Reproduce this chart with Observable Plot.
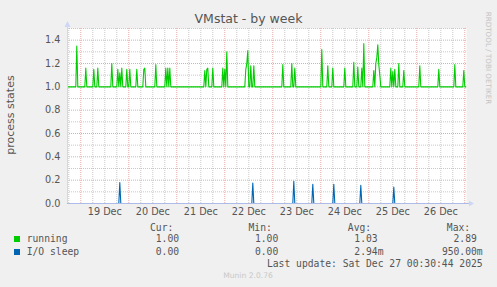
<!DOCTYPE html>
<html>
<head>
<meta charset="utf-8">
<script src="https://cdn.jsdelivr.net/npm/d3@7"></script>
<script src="https://cdn.jsdelivr.net/npm/@observablehq/plot@0.6"></script>
<style>
  html, body { margin: 0; padding: 0; background: #f0f0f0; }
  #wrap { position: relative; width: 497px; height: 287px; overflow: hidden; background: #f0f0f0; }
  #wrap > svg { position: absolute; left: 0; top: 0; }
  .t { position: absolute; white-space: pre; color: #555; line-height: 12px; height: 12px; }
  .mono { font-family: "DejaVu Sans Mono", monospace; font-size: 9.7px; }
  .sans { font-family: "DejaVu Sans", sans-serif; }
</style>
</head>
<body>
<div id="wrap"></div>
<script>
// ---------------- data ----------------
const sampleStart = "2025-12-18T17:30:00Z";
const sampleEnd   = "2025-12-27T00:30:00Z";
const stepMinutes = 30;

const runningBase = 1.0;
const runningTimes = [
  "2025-12-18T22:00","2025-12-19T02:30","2025-12-19T06:30","2025-12-19T08:30",
  "2025-12-19T15:30","2025-12-19T18:30","2025-12-19T19:30","2025-12-19T20:30",
  "2025-12-19T23:00","2025-12-20T00:30","2025-12-20T04:00","2025-12-20T07:30",
  "2025-12-20T08:00","2025-12-20T13:30","2025-12-20T18:30","2025-12-20T19:30",
  "2025-12-20T20:30","2025-12-21T14:00","2025-12-21T15:00","2025-12-21T15:30",
  "2025-12-21T18:00","2025-12-21T23:00","2025-12-22T00:00","2025-12-22T01:00",
  "2025-12-22T10:30","2025-12-22T11:00","2025-12-22T11:30","2025-12-22T13:00",
  "2025-12-22T14:30","2025-12-23T05:00","2025-12-23T09:30","2025-12-23T11:00",
  "2025-12-24T00:30","2025-12-24T03:30","2025-12-24T06:00","2025-12-24T12:00",
  "2025-12-24T16:30","2025-12-24T18:30","2025-12-24T20:30","2025-12-24T21:30",
  "2025-12-25T02:30","2025-12-25T03:30","2025-12-25T04:00","2025-12-25T04:30",
  "2025-12-25T05:00","2025-12-25T05:30","2025-12-25T11:00","2025-12-25T12:00",
  "2025-12-25T13:00","2025-12-25T15:00","2025-12-25T17:30","2025-12-26T01:30",
  "2025-12-26T11:00","2025-12-26T19:00","2025-12-26T23:30"
];
const runningValues = [
  1.35,1.16,1.15,1.16,
  1.20,1.15,1.12,1.16,
  1.15,1.15,1.15,1.15,
  1.16,1.19,1.16,1.16,
  1.16,1.14,1.15,1.16,
  1.16,1.16,1.15,1.30,
  1.15,1.20,1.31,1.18,
  1.18,1.19,1.20,1.16,
  1.32,1.18,1.16,1.16,
  1.21,1.17,1.16,1.37,
  1.14,1.20,1.25,1.36,
  1.19,1.10,1.16,1.13,
  1.15,1.20,1.14,1.18,
  1.15,1.19,1.14
];

const ioBase = 0.0;
const ioTimes = [
  "2025-12-19T19:30","2025-12-22T14:00","2025-12-23T10:30","2025-12-23T20:00",
  "2025-12-24T06:30","2025-12-24T20:00","2025-12-25T12:30"
];
const ioValues = [0.18,0.175,0.19,0.165,0.165,0.155,0.14];

const dayTicks = ["2025-12-19T12:00Z","2025-12-20T12:00Z","2025-12-21T12:00Z","2025-12-22T12:00Z",
                  "2025-12-23T12:00Z","2025-12-24T12:00Z","2025-12-25T12:00Z","2025-12-26T12:00Z"];
const yTicks = [0, 0.2, 0.4, 0.6, 0.8, 1.0, 1.2, 1.4];

const legendNames  = ["running", "I/O sleep"];
const legendColors = ["#00cc00", "#0066b3"];
const legendCur = ["1.00 ", "0.00 "];
const legendMin = ["1.00 ", "0.00 "];
const legendAvg = ["1.03 ", "2.94m"];
const legendMax = ["2.89 ", "950.00m"];
const titleText = "VMstat - by week";
const yLabel = "process states";
const lastUpdate = "Last update: Sat Dec 27 00:30:44 2025";
const watermark = "Munin 2.0.76";
const sideText = "RRDTOOL / TOBI OETIKER";

// ---------------- build series ----------------
function series(times, values, base) {
  const m = new Map(times.map((t, i) => [new Date(t + ":00Z").getTime(), values[i]]));
  const out = [];
  const t0 = new Date(sampleStart).getTime(), t1 = new Date(sampleEnd).getTime();
  for (let t = t0; t <= t1; t += stepMinutes * 60000) {
    out.push({t: new Date(t), v: m.has(t) ? m.get(t) : base});
  }
  return out;
}
const runningSeries = series(runningTimes, runningValues, runningBase);
const ioSeries = series(ioTimes, ioValues, ioBase);

const xStart = new Date("2025-12-18T17:21:00Z");
const xEnd   = new Date("2025-12-27T00:51:00Z");

const majorX = d3.utcDay.range(new Date("2025-12-19T00:00:00Z"), new Date("2025-12-27T00:01:00Z"));
const minorX = d3.utcHour.every(6).range(new Date("2025-12-18T18:00:00Z"), new Date("2025-12-27T00:00:00Z"))
  .filter(d => d.getUTCHours() !== 0);
const majorY = [0.2, 0.4, 0.6, 0.8, 1.0, 1.2, 1.4];
const minorY = [0.1, 0.3, 0.5, 0.7, 0.9, 1.1, 1.3, 1.5];

const chart = Plot.plot({
  width: 497, height: 287,
  marginLeft: 67, marginRight: 31, marginTop: 28, marginBottom: 84,
  style: {background: "transparent", fontFamily: "DejaVu Sans", fontSize: "9.7px", color: "#555", overflow: "visible"},
  x: {type: "utc", domain: [xStart, xEnd]},
  y: {domain: [0, 1.5]},
  marks: [
    Plot.frame({fill: "white", stroke: null}),
    Plot.ruleX(minorX, {stroke: "#c8c8c8", strokeDasharray: "1,1"}),
    Plot.ruleY(minorY, {stroke: "#c8c8c8", strokeDasharray: "1,1"}),
    Plot.ruleX(majorX, {stroke: "#e8a8a8", strokeDasharray: "1,1"}),
    Plot.ruleY(majorY, {stroke: "#e8a8a8", strokeDasharray: "1,1"}),
    Plot.line(runningSeries, {x: "t", y: "v", stroke: "#00cc00", strokeWidth: 1.1}),
    Plot.line(ioSeries, {x: "t", y: "v", stroke: "#0066b3", strokeWidth: 1.1}),
    Plot.ruleY([0], {stroke: "#aebbe8"}),
    Plot.ruleX([xStart], {stroke: "#cfd6f8"}),
    Plot.axisX({ticks: dayTicks.map(d => new Date(d)), tickFormat: d3.utcFormat("%d %b"),
                tickSize: 0, tickPadding: 5, label: null}),
    Plot.axisY({ticks: yTicks, tickFormat: d3.format(".1f"), tickSize: 0, tickPadding: 7, label: null})
  ]
});
const wrap = document.getElementById("wrap");
wrap.appendChild(chart);

// axis arrows (decoration)
const ns = "http://www.w3.org/2000/svg";
const deco = document.createElementNS(ns, "svg");
deco.setAttribute("width", 497); deco.setAttribute("height", 287);
deco.innerHTML = `
  <line x1="67.5" y1="22" x2="67.5" y2="28" stroke="#cfd6f8"/>
  <polygon points="64.5,27 70.5,27 67.5,21" fill="#cfd6f8"/>
  <line x1="466" y1="203.5" x2="470" y2="203.5" stroke="#aebbe8"/>
  <polygon points="469,200.5 469,206.5 474,203.5" fill="#cfd6f8"/>`;
wrap.appendChild(deco);

// ---------------- text & legend ----------------
function put(text, x, y, cls, anchor, extra) {
  const d = document.createElement("div");
  d.className = "t " + cls;
  d.textContent = text;
  d.style.top = (y - 6) + "px";
  if (anchor === "end") { d.style.right = (497 - x) + "px"; }
  else if (anchor === "middle") { d.style.left = x + "px"; d.style.transform = "translateX(-50%)"; }
  else { d.style.left = x + "px"; }
  if (extra) Object.assign(d.style, extra);
  wrap.appendChild(d);
  return d;
}
put(titleText, 248.5, 19, "sans", "middle", {fontSize: "12.5px", color: "#555"});
put(yLabel, 11, 115, "sans", "middle", {fontSize: "11px", transform: "translateX(-50%) rotate(-90deg)"});
put(sideText, 488, 58, "sans", "middle", {fontSize: "7.2px", color: "#c4c4c4", transform: "translateX(-50%) rotate(90deg)"});

put("Cur:", 150, 228, "mono");
put("Min:", 248.5, 228, "mono");
put("Avg:", 347.8, 228, "mono");
put("Max:", 446.8, 228, "mono");
const rowY = [239.3, 251.7];
legendNames.forEach((n, i) => {
  const sw = document.createElement("div");
  Object.assign(sw.style, {position: "absolute", left: "14px", top: (rowY[i] - 3) + "px",
    width: "6px", height: "6px", background: legendColors[i]});
  wrap.appendChild(sw);
  put(n, 26.7, rowY[i], "mono");
  put(legendCur[i], 184.9, rowY[i], "mono", "end");
  put(legendMin[i], 284.1, rowY[i], "mono", "end");
  put(legendAvg[i], 383.5, rowY[i], "mono", "end");
  put(legendMax[i], 482.7, rowY[i], "mono", "end");
});
put(lastUpdate, 482.7, 263.7, "mono", "end");
put(watermark, 248, 276, "sans", "middle", {fontSize: "7.6px", color: "#c8c8c8"});
</script>
</body>
</html>
